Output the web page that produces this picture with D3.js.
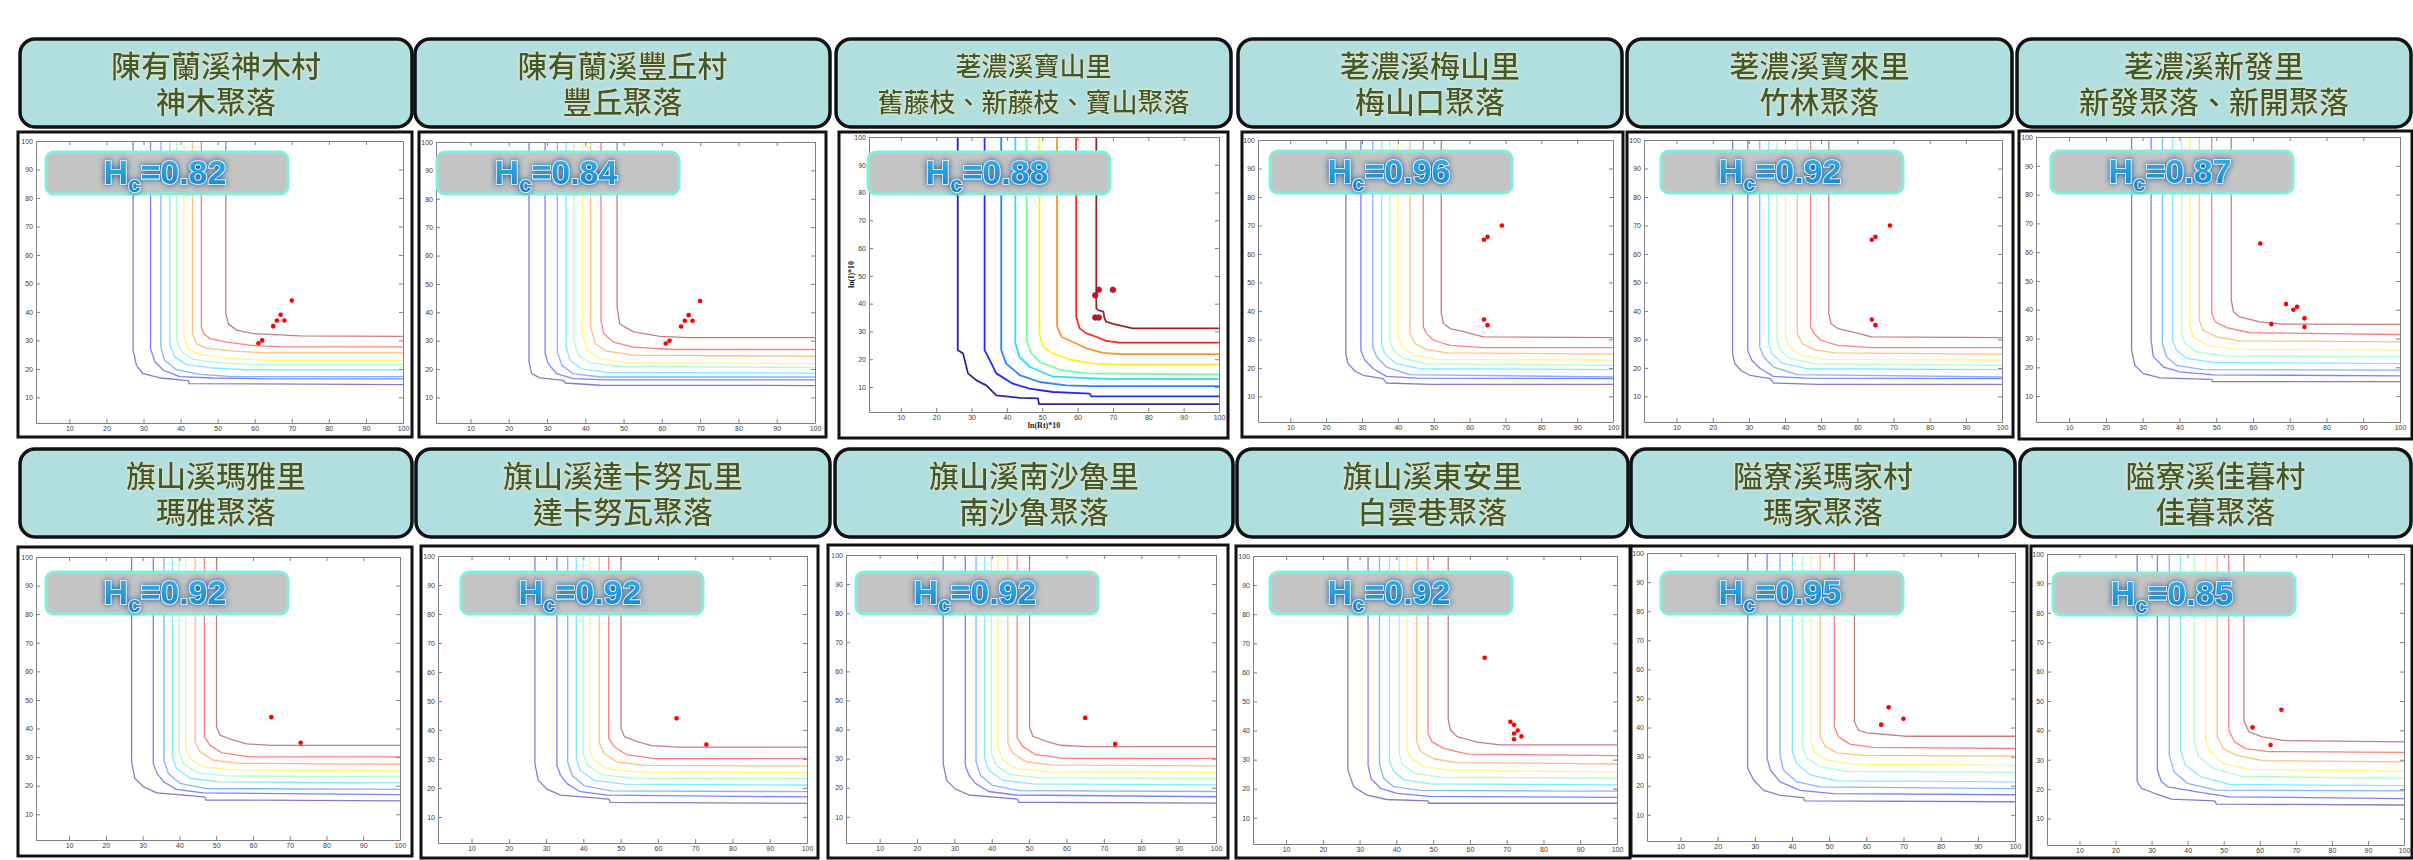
<!DOCTYPE html>
<html>
<head>
<meta charset="utf-8">
<script src="https://cdnjs.cloudflare.com/ajax/libs/d3/7.8.5/d3.min.js"></script>
<style>
  html, body { margin: 0; padding: 0; background: #ffffff; }
  svg { display: block; }
</style>
</head>
<body>
<script>
// ---- Settlement panels: titles, hazard coefficient, settlement points ----
const titleLines = [
  ["陳有蘭溪神木村", "神木聚落"],
  ["陳有蘭溪豐丘村", "豐丘聚落"],
  ["荖濃溪寶山里", "舊藤枝、新藤枝、寶山聚落"],
  ["荖濃溪梅山里", "梅山口聚落"],
  ["荖濃溪寶來里", "竹林聚落"],
  ["荖濃溪新發里", "新發聚落、新開聚落"],
  ["旗山溪瑪雅里", "瑪雅聚落"],
  ["旗山溪達卡努瓦里", "達卡努瓦聚落"],
  ["旗山溪南沙魯里", "南沙魯聚落"],
  ["旗山溪東安里", "白雲巷聚落"],
  ["隘寮溪瑪家村", "瑪家聚落"],
  ["隘寮溪佳暮村", "佳暮聚落"]
];

const hcValues = [0.82, 0.84, 0.88, 0.96, 0.92, 0.87, 0.92, 0.92, 0.92, 0.92, 0.95, 0.85];

// settlement locations, [ln(Rt)*10, ln(I)*10]
const pointsShenmu   = [[70,44],[67,39],[66,37],[68,37],[65,35],[62,30],[61,29]];
const pointsFengqiu  = [[70,44],[67,39],[66,37],[68,37],[65,35],[62,30],[61,29]];
const pointsBaoshan  = [[66,45],[65,43],[70,45],[65,35],[66,35]];
const pointsMeishan  = [[69,70],[65,66],[64,65],[64,37],[65,35]];
const pointsBaolai   = [[69,70],[65,66],[64,65],[64,37],[65,35]];
const pointsXinfa    = [[62,63],[69,42],[71,40],[72,41],[74,37],[74,34],[65,35]];
const pointsMaya     = [[65,44],[73,35]];
const pointsDakanuwa = [[65,44],[73,35]];
const pointsNansalu  = [[65,44],[73,35]];
const pointsDongan   = [[64,65],[71,43],[72,42],[73,40],[72,39],[74,38],[72,37]];
const pointsMajia    = [[66,47],[70,43],[64,41]];
const pointsJiamu    = [[66,47],[58,41],[63,35]];

// ---- Hazard contour lines (outer level first) ----
const contoursShenmu = [
  [[27.2,100],[27.2,26.6],[28.1,21.2],[29.9,18.3],[34.5,16.8],[42.1,15.9],[42.3,14.8],[100,14.5]],
  [[31.9,100],[31.9,27.1],[33.1,22.4],[35.4,19.5],[39.8,17.3],[48.8,16.8],[63.2,16.5],[100,16.5]],
  [[34.7,100],[34.7,27.7],[35.7,23],[38.9,19.7],[45.2,18.1],[54.2,17.3],[100,17.3]],
  [[37.1,100],[37.1,28.8],[38.4,24.2],[41.6,21.5],[48.8,20.3],[57.8,19.7],[100,19.7]],
  [[38.9,100],[38.9,30],[40.3,26],[43.4,23.3],[50.6,22.1],[59.6,21.5],[100,21.5]],
  [[40.9,100],[40.9,31.2],[42.1,27.1],[45.2,25],[52.4,23.8],[63.2,23],[100,23]],
  [[43.2,100],[43.2,32.4],[44.3,28.8],[47.1,27.3],[54.2,26.2],[63.2,25.6],[100,25.6]],
  [[45.6,100],[45.6,34.7],[46.2,32.4],[48,30.6],[52.4,29.4],[59.6,28.2],[67.6,27.7],[100,27.7]],
  [[52.2,100],[52.2,39.4],[52.9,35.8],[55.1,33.6],[59.6,32.4],[72.2,31.6],[100,31.4]]
];
const contoursFengqiu = [
  [[25.3,100],[25.3,22.5],[26,18.4],[28.1,16.9],[34.3,16],[34.7,15.1],[43.9,14.3],[100,14.2]],
  [[29.5,100],[29.5,25.5],[30.3,21.9],[32.5,18.4],[36.8,16.6],[45.6,16.2],[100,16.2]],
  [[32.7,100],[32.7,26],[33.9,21.3],[36.8,18.4],[43.9,17.2],[100,17.2]],
  [[35,100],[35,27.7],[36,23.1],[39,20.1],[45.6,18.8],[100,18.6]],
  [[37,100],[37,30.1],[38.2,24.9],[41.2,22.2],[48.2,21],[100,20.5]],
  [[39.3,100],[39.3,32.5],[40.4,26.6],[43.9,23.7],[50.8,22.3],[100,21.9]],
  [[41.4,100],[41.4,34.9],[42.6,28.9],[45.6,26.3],[52.6,24.9],[100,24.5]],
  [[44.1,100],[44.1,37.1],[44.8,32.5],[47.3,29.5],[52.6,27.7],[63,26.9],[100,26.9]],
  [[48.3,100],[48.3,41.9],[49,35.9],[52.6,33.1],[59.5,31.5],[67,31.1],[100,31.1]]
];
const contoursBaoshan = [
  [[26.1,100],[26.1,23.3],[27.6,22.1],[29,14.9],[31.4,12.4],[34.2,10.6],[37,7],[43.6,6.1],[48.8,5.9],[49.1,3.8],[100,3.8]],
  [[33.7,100],[33.7,23.3],[35.2,19.6],[37,14.9],[41.7,11.2],[46.4,9.4],[53.1,8.2],[63.4,7.6],[63.9,6.6],[100,6.6]],
  [[38.4,100],[38.4,23.3],[39.8,18.4],[43.6,14.3],[49.3,11.8],[56.8,10.6],[64.2,10.3],[100,10.3]],
  [[42.4,100],[42.4,25.7],[43.6,20.8],[46.5,17.2],[53.1,13.7],[70,12.8],[100,12.8]],
  [[45.6,100],[45.6,26.8],[46.9,22.1],[49.3,19],[55,16.2],[62.5,14.9],[100,14.5]],
  [[49.2,100],[49.2,29.3],[50.2,24.5],[53.1,22.1],[57.7,19.9],[64.4,18.4],[71.9,18.1],[100,18.1]],
  [[54.2,100],[54.2,31.7],[55.5,28],[58.7,26.2],[62.5,23.9],[67.2,22.3],[71.9,21.8],[100,21.8]],
  [[59.6,100],[59.6,35.3],[60.6,31.1],[62.5,29.3],[65.4,28],[68.1,26.6],[71.9,26],[100,26]],
  [[65.3,100],[65.3,38.3],[65.8,37.7],[67.3,37.1],[67.6,34.7],[68.1,33.5],[70,32.7],[75.6,31.1],[100,31.1]]
];
const contoursMeishan = [
  [[25.5,100],[25.5,25],[26.1,21.5],[28,18.9],[30.3,17.4],[35.9,16.2],[36.8,14.7],[48.9,14.2],[100,14.2]],
  [[29.7,100],[29.7,26.1],[30.8,22.7],[33.2,19.7],[36.8,17],[45.3,16.4],[100,16.2]],
  [[33,100],[33,27.3],[34.1,23.9],[36.8,20.3],[43.4,17.6],[100,16.8]],
  [[35.5,100],[35.5,28.5],[36.3,25.1],[39.2,21.7],[46.1,19.7],[100,19.4]],
  [[37.8,100],[37.8,29.7],[38.7,26.1],[41.5,23.3],[48,21.4],[100,20.9]],
  [[40.1,100],[40.1,30.9],[41.1,27.3],[44.3,24.5],[50.8,23],[100,22.7]],
  [[43.4,100],[43.4,32.1],[44.8,28.5],[48,26.4],[53.7,25.3],[100,24.8]],
  [[47.1,100],[47.1,34.4],[48,32.1],[49.9,29.7],[54.6,27.9],[63.9,27.1],[100,27.1]],
  [[52.1,100],[52.1,39.1],[52.7,35.6],[54.6,33.8],[58.3,32.7],[63.9,30.9],[100,30.6]]
];
const contoursBaolai = contoursMeishan;
const contoursXinfa = [
  [[27,100],[27,26],[27.9,20.7],[30.2,17.8],[34.8,16.3],[48.8,15.8],[49,15],[100,15]],
  [[32.3,100],[32.3,29.4],[32.9,23.7],[35.7,20.1],[40.2,18.4],[49.2,17.4],[100,17]],
  [[35.4,100],[35.4,28.2],[36.5,23.7],[39.2,20.7],[46.5,19.2],[100,19]],
  [[38.1,100],[38.1,29.4],[39.2,26],[42,23.1],[49.2,21.7],[100,21.3]],
  [[40.6,100],[40.6,31.8],[41.5,28.3],[44.7,25.4],[52,24],[100,23.7]],
  [[42.9,100],[42.9,34.1],[43.8,30.6],[47.4,27.7],[54.7,26.3],[100,26]],
  [[45.4,100],[45.4,36.4],[46.4,32.9],[50.1,30.6],[56.4,29.2],[100,28.8]],
  [[48.8,100],[48.8,38.7],[49.7,35.8],[52.9,33.8],[59.2,32],[100,31.4]],
  [[54.1,100],[54.1,43.4],[54.7,39.3],[56.4,37.5],[61.9,35.8],[68.2,35],[100,34.9]]
];
const contoursMaya = [
  [[27,100],[27,28.3],[27.9,22.6],[30.2,19.6],[33.9,17.5],[46.9,16.1],[47.2,15],[100,14.7]],
  [[32.9,100],[32.9,27.8],[33.9,24.3],[35.7,21.4],[39.2,18.7],[46.5,17.5],[100,16.9]],
  [[35.8,100],[35.8,28.9],[37,24.3],[40.2,20.8],[47.4,19],[100,18.7]],
  [[38.1,100],[38.1,30.1],[39.2,26],[42.9,22.6],[51,21.3],[100,21]],
  [[39.9,100],[39.9,31.9],[41.1,27.8],[44.7,24.6],[52.9,23.4],[100,23.2]],
  [[41.7,100],[41.7,33.6],[42.9,29.5],[46.5,26.6],[54.7,25.5],[100,25.3]],
  [[44.3,100],[44.3,35.4],[45.6,31.9],[49.2,28.9],[56.4,27.8],[100,27.5]],
  [[46.8,100],[46.8,37.1],[48.3,34.2],[51.5,31.5],[59.2,30.1],[100,30.1]],
  [[50.1,100],[50.1,40.6],[51,37.7],[54.7,35.9],[58.3,34.6],[65.4,34.1],[100,34.1]]
];
const contoursDakanuwa = contoursMaya;
const contoursNansalu = contoursMaya;
const contoursDongan = [
  [[26.8,100],[26.8,26.4],[28.4,20.7],[32,17.8],[37.4,16.3],[48.6,15.8],[48.8,15],[100,15]],
  [[32.3,100],[32.3,28],[33.1,23.5],[35.7,20.1],[40.2,18.4],[49.2,17.4],[100,17]],
  [[35.4,100],[35.4,28.5],[36.5,23.7],[39.2,20.7],[46.5,19.4],[100,19.2]],
  [[38.1,100],[38.1,29.6],[39.2,26],[42,23.1],[49.2,21.7],[100,21.3]],
  [[40.8,100],[40.8,31.8],[41.6,28.3],[44.7,25.4],[52,24],[100,23.6]],
  [[42.9,100],[42.9,34.1],[43.8,30.6],[47.4,27.7],[54.7,26.3],[100,25.8]],
  [[45.5,100],[45.5,36.4],[46.5,32.9],[50.1,30.3],[56.4,29],[100,28.5]],
  [[48.6,100],[48.6,39],[49.7,36.1],[53,33.8],[59.4,31.9],[100,31.4]],
  [[54.1,100],[54.1,43.7],[54.7,40.2],[56.5,37.9],[62,36],[68.2,35.1],[100,35.1]]
];
const contoursMajia = [
  [[28.1,100],[28.1,26],[29.7,21.9],[32.4,18.4],[36.8,16.7],[43.1,15.9],[43.4,14.8],[100,14.5]],
  [[33.3,100],[33.3,29.4],[34.2,25.4],[36.8,21.3],[42.2,18.4],[51.2,17.3],[100,16.9]],
  [[36.8,100],[36.8,30.5],[37.7,25.4],[41.3,21.3],[47.6,19.6],[100,19]],
  [[40.1,100],[40.1,31.7],[41.3,27.6],[44.9,23.7],[52.1,21.7],[100,21.3]],
  [[42.9,100],[42.9,33.4],[44,29.4],[47.6,26.5],[54.8,24.9],[100,24.6]],
  [[45.2,100],[45.2,34.6],[46.2,31.1],[49.4,28.8],[56.6,27.4],[100,27]],
  [[47.6,100],[47.6,36.8],[48.9,33.6],[52.1,31.3],[59.2,30.4],[100,30.2]],
  [[51.4,100],[51.4,40.3],[52.5,36.8],[55.6,34.3],[61.9,33.2],[100,32.8]],
  [[56.8,100],[56.8,42],[57.9,39.1],[60.1,38.2],[64.7,37.7],[70.9,37],[100,37]]
];
const contoursJiamu = [
  [[26,100],[26,22.6],[27.2,20.3],[30.8,18.6],[35.4,16.6],[47.5,16],[48,14.9],[100,14.6]],
  [[31.6,100],[31.6,26.5],[32.7,22.6],[34.5,20.8],[42.6,19.1],[51.6,17.4],[100,16.8]],
  [[34.9,100],[34.9,31.6],[36.2,25.9],[39.9,22],[48,19.7],[100,19.4]],
  [[38,100],[38,33.3],[39.4,28.2],[43.5,24.3],[51.6,21.6],[100,21.2]],
  [[41.9,100],[41.9,35.6],[43.1,31.1],[47.1,27.1],[55.3,24.3],[100,23.7]],
  [[45,100],[45,37],[46.2,32.8],[49.8,28.8],[57,26.7],[100,26.1]],
  [[48.2,100],[48.2,37.8],[49.8,33.9],[53.5,31.6],[60.7,29.7],[100,29.3]],
  [[51.4,100],[51.4,40.1],[53,36.1],[56.1,33.8],[62.5,32.8],[100,32.5]],
  [[55.6,100],[55.6,43.3],[57,39.5],[60.7,37.8],[67,36.5],[100,36.1]]
];

const tickValues = [10, 20, 30, 40, 50, 60, 70, 80, 90, 100];
const axisDomain = [1, 100];

const panelPoints = [pointsShenmu, pointsFengqiu, pointsBaoshan, pointsMeishan, pointsBaolai, pointsXinfa,
                     pointsMaya, pointsDakanuwa, pointsNansalu, pointsDongan, pointsMajia, pointsJiamu];
const panelContours = [contoursShenmu, contoursFengqiu, contoursBaoshan, contoursMeishan, contoursBaolai, contoursXinfa,
                       contoursMaya, contoursDakanuwa, contoursNansalu, contoursDongan, contoursMajia, contoursJiamu];

// ---- Page layout (pixels): title box, frame box, axes box [x0, yTop, x1, yBottom], label box origin ----
const layout = [
  { title:[20,39,412,127],    frame:[18,132,412,437],    axes:[36,141,403,423],    hc:[46,152] },
  { title:[415,39,830,127],   frame:[419,132,826,437],   axes:[436,142,815,423],   hc:[437,152] },
  { title:[836,39,1231,127],  frame:[839,132,1228,438],  axes:[869,137,1219,412],  hc:[868,152], strong:true, small:true },
  { title:[1238,39,1622,127], frame:[1242,132,1623,437], axes:[1258,140,1613,422], hc:[1270,151] },
  { title:[1627,39,2012,127], frame:[1627,132,2013,437], axes:[1644,140,2002,422], hc:[1661,151] },
  { title:[2017,39,2411,127], frame:[2019,131,2412,439], axes:[2036,137,2400,422], hc:[2051,151] },
  { title:[20,449,412,537],   frame:[18,547,412,856],    axes:[36,557,400,840],    hc:[46,572] },
  { title:[416,449,830,537],  frame:[421,546,818,858],   axes:[438,556,807,843],   hc:[461,572] },
  { title:[835,449,1233,537], frame:[828,545,1228,858],  axes:[846,555,1216,843],  hc:[856,572] },
  { title:[1237,449,1628,537],frame:[1236,546,1630,858], axes:[1253,556,1617,844], hc:[1270,572] },
  { title:[1631,449,2015,537],frame:[1631,546,2027,856], axes:[1647,553,2015,841], hc:[1661,572] },
  { title:[2020,449,2411,537],frame:[2031,546,2412,858], axes:[2047,554,2404,845], hc:[2053,573] }
];

// jet colour ramp for the nine contour levels, outer to inner
const levelColors = ["#00008f", "#0000ff", "#0070ff", "#00d8ff", "#5cff8c", "#ffee00", "#ff8000", "#ff0000", "#8a0000"];

const W = 2413, H = 860;
const svg = d3.select("body").append("svg").attr("width", W).attr("height", H);
const defs = svg.append("defs");

// glow behind the coefficient text
const glow = defs.append("filter").attr("id", "hcGlow")
  .attr("x", "-20%").attr("y", "-50%").attr("width", "140%").attr("height", "200%");
glow.append("feGaussianBlur").attr("in", "SourceAlpha").attr("stdDeviation", 3.2).attr("result", "blur");
glow.append("feFlood").attr("flood-color", "#07508c").attr("flood-opacity", 0.95);
glow.append("feComposite").attr("in2", "blur").attr("operator", "in").attr("result", "shade");
const gm = glow.append("feMerge");
gm.append("feMergeNode").attr("in", "shade");
gm.append("feMergeNode").attr("in", "SourceGraphic");

// soft halo behind the title text
const halo = defs.append("filter").attr("id", "titleHalo")
  .attr("x", "-10%").attr("y", "-30%").attr("width", "120%").attr("height", "160%");
halo.append("feGaussianBlur").attr("in", "SourceAlpha").attr("stdDeviation", 1.6).attr("result", "blur");
halo.append("feFlood").attr("flood-color", "#efe3c8").attr("flood-opacity", 1);
halo.append("feComposite").attr("in2", "blur").attr("operator", "in").attr("result", "shade");
const hm = halo.append("feMerge");
hm.append("feMergeNode").attr("in", "shade");
hm.append("feMergeNode").attr("in", "shade");
hm.append("feMergeNode").attr("in", "SourceGraphic");

const hcGrad = defs.append("linearGradient").attr("id", "hcFill").attr("x1", 0).attr("y1", 0).attr("x2", 0).attr("y2", 1);
hcGrad.append("stop").attr("offset", "0%").attr("stop-color", "#3fb4ee");
hcGrad.append("stop").attr("offset", "100%").attr("stop-color", "#0a7cc4");

svg.append("rect").attr("width", W).attr("height", H).attr("fill", "#ffffff");

layout.forEach((L, i) => {
  const g = svg.append("g").attr("class", "panel");

  // title box with a two-line caption
  const [tx0, ty0, tx1, ty1] = L.title;
  g.append("rect")
    .attr("x", tx0).attr("y", ty0).attr("width", tx1 - tx0).attr("height", ty1 - ty0)
    .attr("rx", 15).attr("ry", 15)
    .attr("fill", "#b1dfdf").attr("stroke", "#111").attr("stroke-width", 3.5);
  const tcx = (tx0 + tx1) / 2;
  const caption = g.append("text")
    .attr("text-anchor", "middle").attr("dominant-baseline", "central")
    .attr("font-family", "'Noto Sans CJK TC', 'Noto Sans CJK SC', sans-serif")
    .attr("font-size", L.small ? 26 : 30).attr("font-weight", 500)
    .attr("fill", "#3c5a2a")
    .attr("filter", "url(#titleHalo)");
  titleLines[i].forEach((line, k) => {
    caption.append("tspan")
      .attr("x", tcx).attr("y", ty0 + (k === 0 ? 25 : 61))
      .text(line);
  });

  // plot frame
  const [fx0, fy0, fx1, fy1] = L.frame;
  g.append("rect")
    .attr("x", fx0).attr("y", fy0).attr("width", fx1 - fx0).attr("height", fy1 - fy0)
    .attr("fill", "#ffffff").attr("stroke", "#111").attr("stroke-width", 3);

  // scales
  const [ax0, ayT, ax1, ayB] = L.axes;
  const x = d3.scaleLinear().domain(axisDomain).range([ax0, ax1]);
  const y = d3.scaleLinear().domain(axisDomain).range([ayB, ayT]);

  // contours
  const clipId = "clip" + i;
  defs.append("clipPath").attr("id", clipId)
    .append("rect").attr("x", ax0).attr("y", ayT).attr("width", ax1 - ax0).attr("height", ayB - ayT);
  const line = d3.line().x(d => x(d[0])).y(d => y(d[1]));
  g.append("g").attr("clip-path", `url(#${clipId})`)
    .selectAll("path").data(panelContours[i]).join("path")
    .attr("d", line)
    .attr("fill", "none")
    .attr("stroke", (d, k) => levelColors[k])
    .attr("stroke-opacity", L.strong ? 0.85 : 0.5)
    .attr("stroke-width", L.strong ? 1.8 : 1.3)
    .attr("stroke-linejoin", "round");

  // axes box with inward ticks on all four sides
  const styleAxis = sel => {
    sel.selectAll("path.domain").attr("stroke", "#808080").attr("stroke-width", 1);
    sel.selectAll(".tick line").attr("stroke", "#808080");
    sel.selectAll(".tick text").attr("fill", "#3a3a3a")
      .attr("font-family", "'Liberation Sans', Arial, sans-serif").attr("font-size", 7);
  };
  g.append("g").attr("transform", `translate(0,${ayB})`)
    .call(d3.axisBottom(x).tickValues(tickValues).tickSizeInner(-4).tickSizeOuter(0).tickPadding(3))
    .call(styleAxis);
  g.append("g").attr("transform", `translate(${ax0},0)`)
    .call(d3.axisLeft(y).tickValues(tickValues).tickSizeInner(-4).tickSizeOuter(0).tickPadding(3))
    .call(styleAxis);
  g.append("g").attr("transform", `translate(0,${ayT})`)
    .call(d3.axisTop(x).tickValues(tickValues).tickSizeInner(-4).tickSizeOuter(0).tickFormat(""))
    .call(styleAxis);
  g.append("g").attr("transform", `translate(${ax1},0)`)
    .call(d3.axisRight(y).tickValues(tickValues).tickSizeInner(-4).tickSizeOuter(0).tickFormat(""))
    .call(styleAxis);

  if (L.strong) {
    g.append("text")
      .attr("x", (ax0 + ax1) / 2).attr("y", ayB + 16)
      .attr("text-anchor", "middle")
      .attr("font-family", "'Liberation Serif', 'Times New Roman', serif")
      .attr("font-weight", "bold").attr("font-size", 8).attr("fill", "#222")
      .text("ln(Rt)*10");
    g.append("text")
      .attr("transform", `translate(${ax0 - 15},${(ayT + ayB) / 2}) rotate(-90)`)
      .attr("text-anchor", "middle")
      .attr("font-family", "'Liberation Serif', 'Times New Roman', serif")
      .attr("font-weight", "bold").attr("font-size", 8).attr("fill", "#222")
      .text("ln(I)*10");
  }

  // settlement points
  g.append("g").selectAll("circle").data(panelPoints[i]).join("circle")
    .attr("cx", d => x(d[0])).attr("cy", d => y(d[1]))
    .attr("r", L.strong ? 2.8 : 2.3)
    .attr("fill", "#ff0000")
    .attr("stroke", L.strong ? "#3a2a80" : "none")
    .attr("stroke-width", L.strong ? 0.7 : 0);

  // hazard coefficient label
  const [bx, by] = L.hc;
  const bw = 242, bh = 42;
  g.append("rect")
    .attr("x", bx).attr("y", by).attr("width", bw).attr("height", bh)
    .attr("rx", 8).attr("ry", 8)
    .attr("fill", "#c4c4c4").attr("stroke", "#80eedb").attr("stroke-width", 3);
  const t = g.append("text")
    .attr("x", bx + bw / 2 - 2).attr("y", by + 32)
    .attr("text-anchor", "middle")
    .attr("font-family", "'Liberation Sans', Arial, sans-serif")
    .attr("font-weight", "bold").attr("font-size", 34)
    .attr("fill", "url(#hcFill)")
    .attr("stroke", "#eaf7ff").attr("stroke-width", 1.6)
    .attr("paint-order", "stroke")
    .attr("filter", "url(#hcGlow)");
  t.append("tspan").text("H");
  t.append("tspan").attr("dy", 8).attr("font-size", 22).text("c");
  t.append("tspan").attr("dy", -8).text("=" + hcValues[i].toFixed(2));
});
</script>
</body>
</html>
